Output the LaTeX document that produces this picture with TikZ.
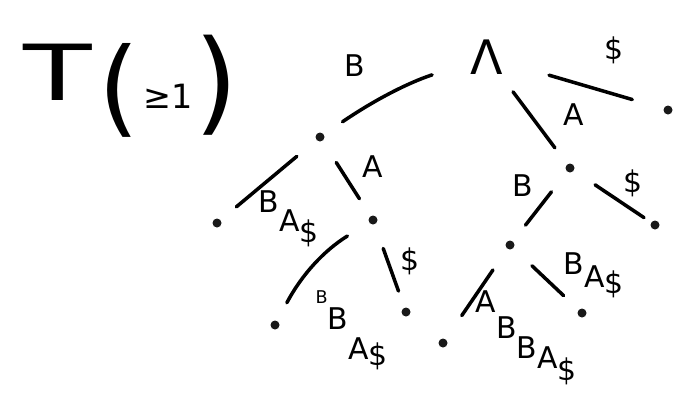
\documentclass[tikz,border=0pt]{standalone}
\usepackage{fontspec}
\setmainfont{DejaVu Sans}
\newcommand{\dn}[2]{\raisebox{-#1pt}{#2}}
\begin{document}
\begin{tikzpicture}[x=0.01cm, y=-0.01cm,
    dot/.style={circle, fill=black!90, inner sep=0pt, minimum size=0.09cm},
    edge/.style={line width=1pt, line cap=round, shorten <=0.25cm, shorten >=0.2cm},
    lbl/.style={font=\fontsize{8.5}{10}\selectfont, inner sep=0pt},
    big/.style={inner sep=0pt}]
    \useasboundingbox (0,0) rectangle (685,405);

    % Title
    \node[big, font=\fontsize{22}{26}\selectfont] (titleT) at (58,72) {\scalebox{1.45}[1]{T}};
    \node[big, font=\fontsize{30}{34}\selectfont] (lpar) at (119,90) {(};
    \node[big, font=\fontsize{9.5}{12}\selectfont] (cond) at (168,96) {≥1};
    \node[big, font=\fontsize{32}{36}\selectfont] (rpar) at (216,85) {)};

    % Root and inner nodes
    \node[big, font=\fontsize{13.5}{16}\selectfont] (root) at (487,57) {Λ};
    \node[dot] (nB) at (320,137) {};
    \node[dot] (nBA) at (373,220) {};
    \node[dot] (nA) at (570,168) {};
    \node[dot] (nAB) at (510,245) {};

    % Leaves
    \node[dot] (lDollar) at (668,110) {};
    \node[dot] (lBBA) at (217,223) {};
    \node[dot] (lBABBA) at (275,325) {};
    \node[dot] (lBA) at (406,312) {};
    \node[dot] (lAD) at (655,225) {};
    \node[dot] (lABABBA) at (443,343) {};
    \node[dot] (lABBA) at (582,313) {};

    % Edges
    \draw[edge, shorten <=0.4cm, shorten >=0.22cm] (root) to[bend right=8] (nB);
    \draw[edge, shorten <=0.47cm, shorten >=0.32cm] (root) -- (lDollar);
    \draw[edge, shorten <=0.21cm] (root) -- (nA);
    \draw[edge] (nB) -- (lBBA);
    \draw[edge] (nB) -- (nBA);
    \draw[edge] (nBA) to[bend right=15] (lBABBA);
    \draw[edge, shorten >=0.17cm] (nBA) -- (lBA);
    \draw[edge, shorten >=0.08cm] (nA) -- (lAD);
    \draw[edge] (nA) -- (nAB);
    \draw[edge, shorten >=0.28cm] (nAB) -- (lABABBA);
    \draw[edge] (nAB) -- (lABBA);

    % Edge labels
    \node[lbl] (tB) at (355,66) {B};
    \node[lbl] (tD) at (614,50) {\$};
    \node[lbl] (tA) at (574,115) {A};
    \node[lbl] (tBA) at (373,167) {A};
    \node[lbl] (tBAD) at (410,261) {\$};
    \node[lbl] (tAB) at (523,186) {B};
    \node[lbl] (tAD) at (633,183) {\$};
    \node[lbl, anchor=north west] (tBBA) at (258,190) {B\dn{5.4}{A}\dn{8.5}{\$}};
    \node[lbl, anchor=north west] (tBABBA) at (315,290)
      {{\fontsize{5}{6}\selectfont B}\dn{7.5}{B}\dn{16}{A}\dn{17.5}{\$}};
    \node[lbl, anchor=north west] (tABBA) at (563,252) {B\dn{3.7}{A}\dn{5.4}{\$}};
    \node[lbl, anchor=north west] (tABABBA) at (475,290)
      {A\dn{7.4}{B}\dn{13.1}{B}\dn{15.9}{A}\dn{19.3}{\$}};
\end{tikzpicture}
\end{document}
